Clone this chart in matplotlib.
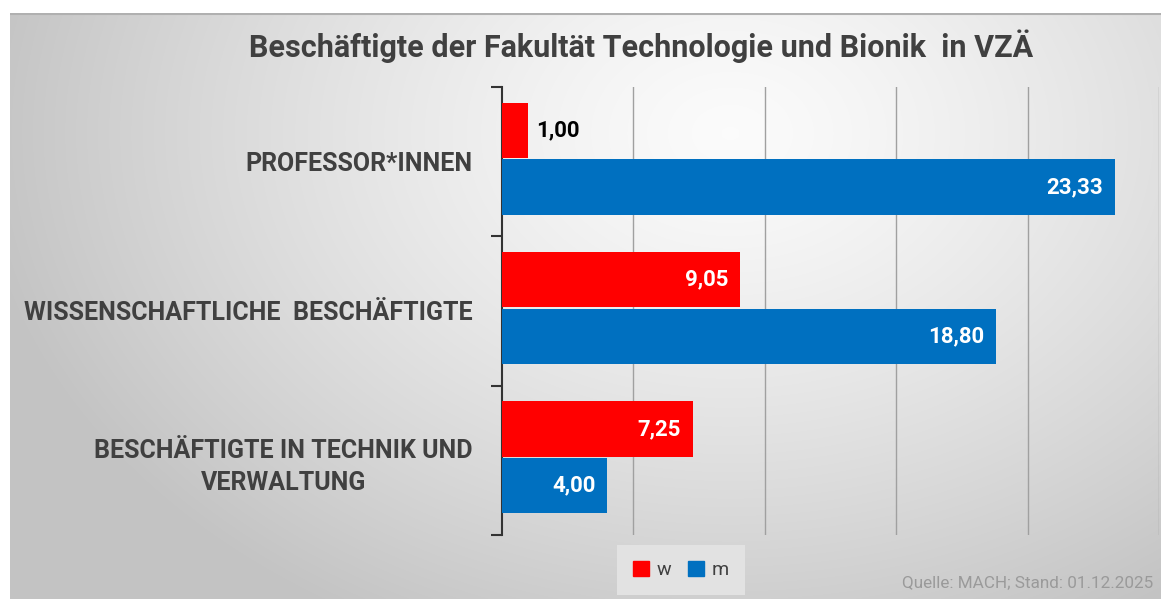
import numpy as np
import matplotlib
matplotlib.use('Agg')
import matplotlib.pyplot as plt
from matplotlib.patches import Patch

# Daten
categories = ['PROFESSOR*INNEN', 'WISSENSCHAFTLICHE  BESCHÄFTIGTE', 'BESCHÄFTIGTE IN TECHNIK UND\nVERWALTUNG']
werte_w = [1.00, 9.05, 7.25]
werte_m = [23.33, 18.80, 4.00]
serien = ['w', 'm']
farben = ['#ff0000', '#0070c0']

titel = 'Beschäftigte der Fakultät Technologie und Bionik  in VZÄ'
quelle = 'Quelle: MACH; Stand: 01.12.2025'

plt.rcParams['font.family'] = ['Roboto', 'DejaVu Sans']

W, H = 1161, 599
fig = plt.figure(figsize=(W / 100, H / 100), dpi=100)
fig.patch.set_facecolor('white')

# Hintergrund mit radialem Verlauf
bg = fig.add_axes([10 / W, 0, 1 - 10 / W, 1 - 13 / H], zorder=-2)
yy, xx = np.mgrid[0:586, 0:1151]
r = np.sqrt(((xx - 720) / 760.0) ** 2 + ((yy - 120) / 560.0) ** 2)
r = np.clip(r, 0, 1)
grau = 0.985 - 0.22 * r ** 1.3
bg.imshow(np.dstack([grau, grau, grau]), aspect='auto', extent=(0, 1, 0, 1))
bg.axhline(0.999, color='#b0b0b0', lw=1.5)
bg.set_axis_off()

ax = fig.add_axes([502 / W, 1 - 535 / H, (1159 - 502) / W, (535 - 87) / H])
ax.patch.set_alpha(0)

y = np.arange(len(categories))
h = 0.37
off = 0.19
bars_w = ax.barh(y - off - 0.02, werte_w, height=h, color=farben[0], label=serien[0], zorder=3)
bars_m = ax.barh(y + off - 0.02, werte_m, height=h, color=farben[1], label=serien[1], zorder=3)

ax.set_xlim(0, 25)
ax.set_ylim(2.5, -0.5)
ax.set_xticks([5, 10, 15, 20, 25])
ax.xaxis.grid(True, color='#a0a0a0', lw=1)
ax.tick_params(axis='x', length=0, labelbottom=False)

ax.set_yticks(y)
ax.set_yticklabels(categories, fontsize=18, fontweight='bold', color='#404040',
                   multialignment='center', linespacing=1.45)
ax.set_yticks([-0.5, 0.5, 1.5, 2.5], minor=True)
ax.tick_params(axis='y', which='major', length=0, pad=21)
ax.tick_params(axis='y', which='minor', length=8, width=1.5, color='#333333')

for s in ['top', 'right', 'bottom']:
    ax.spines[s].set_visible(False)
ax.spines['left'].set_color('#333333')
ax.spines['left'].set_linewidth(1.5)

# Werte beschriften
for bars in [bars_w, bars_m]:
    for b in bars:
        v = b.get_width()
        txt = f'{v:.2f}'.replace('.', ',')
        yc = b.get_y() + b.get_height() / 2
        if v < 2:
            ax.text(v + 0.28, yc, txt, ha='left', va='center', fontsize=16,
                    fontweight='bold', color='black', zorder=4)
        else:
            ax.text(v - 0.45, yc, txt, ha='right', va='center', fontsize=16,
                    fontweight='bold', color='white', zorder=4)

fig.text(0.5525, 1 - 46 / H, titel, ha='center', va='center', fontsize=22,
         fontweight='bold', color='#404040')

leg = fig.legend(handles=[Patch(color=farben[0], label=serien[0]), Patch(color=farben[1], label=serien[1])],
                 loc='center', bbox_to_anchor=(681 / W, 1 - 570 / H), ncol=2, frameon=True,
                 fontsize=14, handlelength=0.8, handleheight=0.8, handletextpad=0.4,
                 columnspacing=0.9, borderpad=0.5, labelcolor='#404040')
leg.get_frame().set_facecolor('#e2e2e2')
leg.get_frame().set_edgecolor('none')
leg.get_frame().set_boxstyle('square')
leg.get_frame().set_alpha(1)

fig.text(1153 / W, 1 - 583 / H, quelle, ha='right', va='center', fontsize=12.3, color='#9a9a9a')

fig.savefig('out.png', dpi=100)
